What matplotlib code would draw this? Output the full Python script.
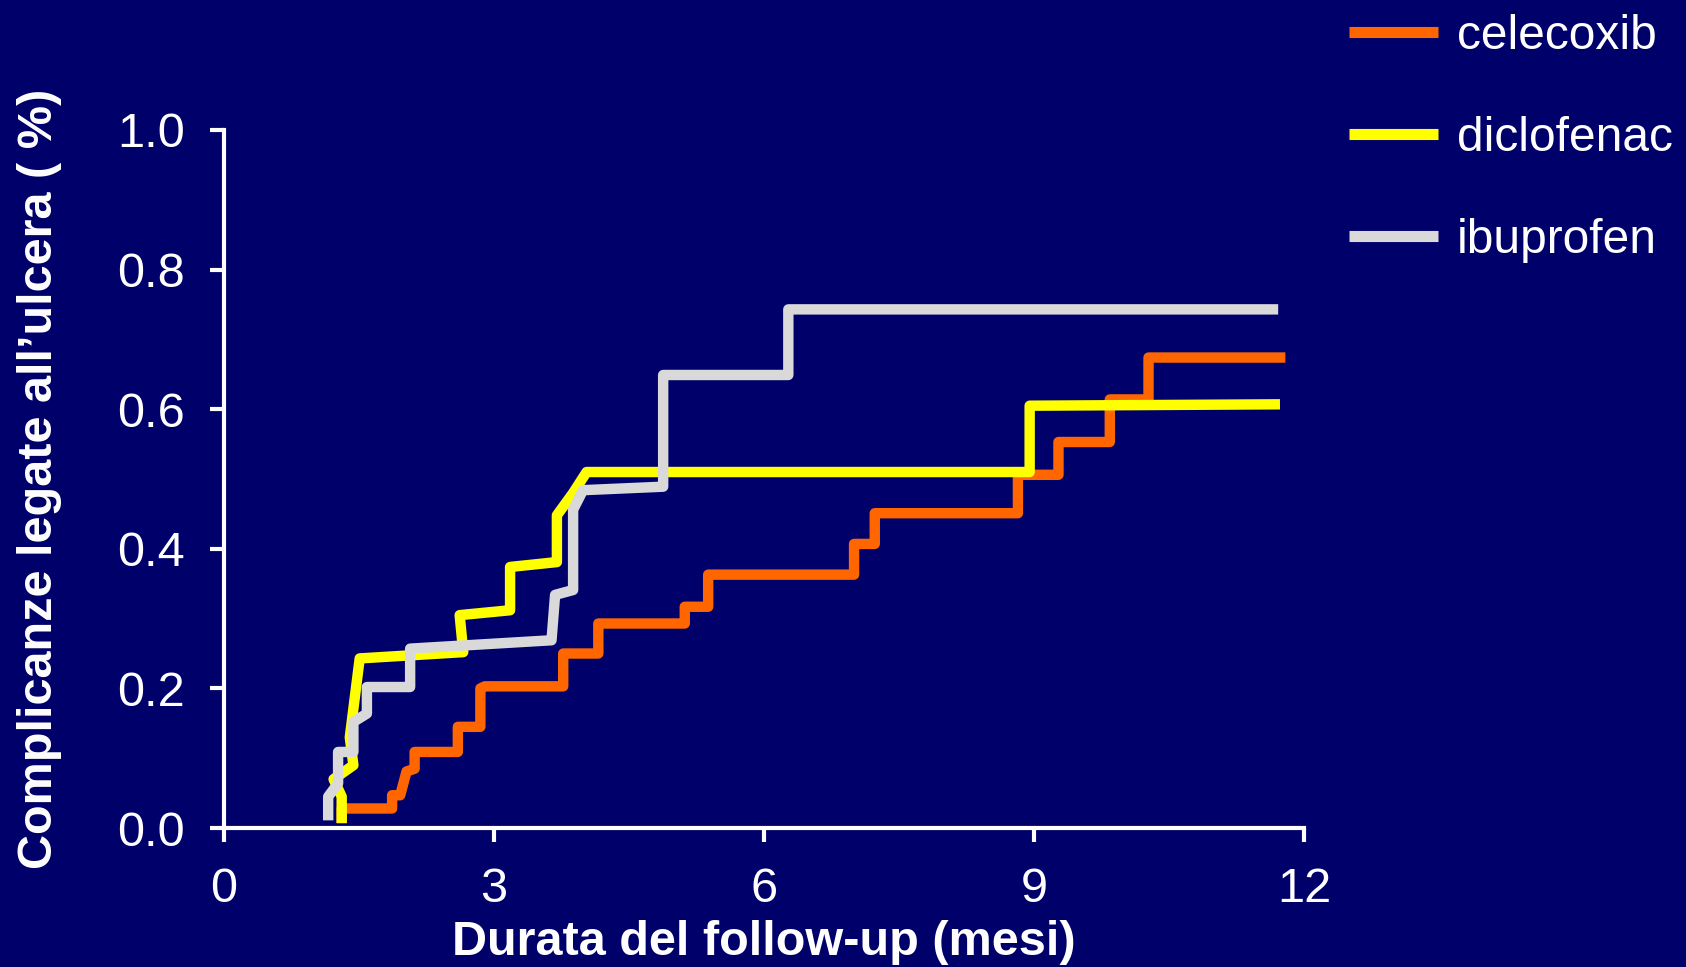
import matplotlib.pyplot as plt

plt.rcParams['font.family'] = ['Liberation Sans', 'DejaVu Sans']

# vertices of the step curves (months, cumulative rate)
cele_x = [1.31, 1.31, 1.87, 1.87, 1.96, 2.03, 2.12, 2.12, 2.60, 2.60, 2.85, 2.85, 2.90,
          3.77, 3.77, 4.16, 4.16, 5.12, 5.12, 5.38, 5.38, 7.00, 7.00, 7.23, 7.23,
          8.82, 8.82, 9.27, 9.27, 9.84, 9.84, 10.27, 10.27, 11.79]
cele_y = [0.007, 0.028, 0.028, 0.047, 0.047, 0.081, 0.085, 0.109, 0.109, 0.145, 0.145, 0.200, 0.203,
          0.203, 0.250, 0.250, 0.293, 0.293, 0.317, 0.317, 0.363, 0.363, 0.407, 0.407, 0.451,
          0.451, 0.506, 0.506, 0.553, 0.553, 0.614, 0.614, 0.674, 0.674]

diclo_x = [1.31, 1.31, 1.22, 1.44, 1.40, 1.51, 2.66, 2.62, 3.18, 3.18, 3.70, 3.70,
           3.88, 4.03, 8.95, 8.95, 11.73]
diclo_y = [0.007, 0.045, 0.070, 0.090, 0.130, 0.243, 0.252, 0.305, 0.312, 0.374, 0.381, 0.448,
           0.480, 0.510, 0.510, 0.605, 0.607]

ibu_x = [1.16, 1.16, 1.27, 1.27, 1.44, 1.44, 1.59, 1.59, 2.07, 2.07, 3.64, 3.68,
         3.88, 3.88, 3.99, 4.88, 4.88, 6.27, 6.27, 11.71]
ibu_y = [0.011, 0.045, 0.064, 0.109, 0.109, 0.152, 0.164, 0.202, 0.202, 0.257, 0.269, 0.334,
         0.341, 0.456, 0.484, 0.489, 0.649, 0.649, 0.743, 0.743]

series = [('celecoxib', cele_x, cele_y, '#ff6600'),
          ('diclofenac', diclo_x, diclo_y, '#ffff00'),
          ('ibuprofen', ibu_x, ibu_y, '#d9d9d9')]

xticks = [0, 3, 6, 9, 12]
yticks = [0.0, 0.2, 0.4, 0.6, 0.8, 1.0]

bg = '#00006b'
fig = plt.figure(figsize=(16.86, 9.67), dpi=100, facecolor=bg)
ax = fig.add_axes([0.1327, 0.1437, 0.6409, 0.7219], facecolor=bg)

for name, xs, ys, col in series:
    ax.plot(xs, ys, color=col, lw=7.5, label=name,
            solid_joinstyle='round', solid_capstyle='butt', clip_on=False)

ax.set_xlim(0, 12)
ax.set_ylim(0, 1)
ax.set_xticks(xticks)
ax.set_yticks(yticks)
ax.set_xticklabels([str(t) for t in xticks])
ax.set_yticklabels(['%.1f' % t for t in yticks])

for s in ['top', 'right']:
    ax.spines[s].set_visible(False)
for s in ['left', 'bottom']:
    ax.spines[s].set_color('white')
    ax.spines[s].set_linewidth(3)
ax.tick_params(colors='white', labelsize=35, width=3, length=10, pad=18)

ax.set_xlabel('Durata del follow-up (mesi)', color='white', fontsize=35,
              fontweight='bold', labelpad=6)
ax.set_ylabel('Complicanze legate all\u2019ulcera ( %)', color='white', fontsize=35,
              fontweight='bold', labelpad=40)

leg = ax.legend(loc='upper left', bbox_to_anchor=(0.789, 1.0056), bbox_transform=fig.transFigure,
                frameon=False, fontsize=34.5, handlelength=1.84, handletextpad=0.4,
                labelspacing=1.19, borderaxespad=0)
for t in leg.get_texts():
    t.set_color('white')
for h in leg.get_lines():
    h.set_linewidth(8)

fig.savefig('out.png', dpi=100, facecolor=bg)
